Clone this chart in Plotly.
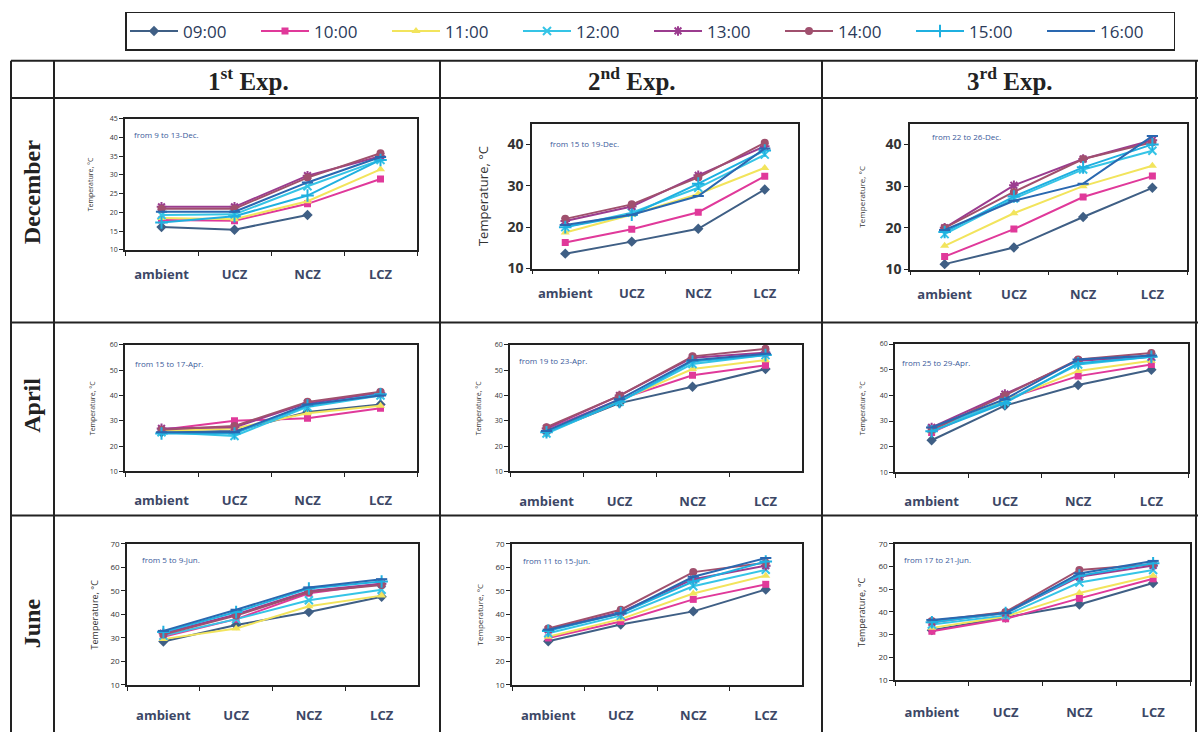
import plotly.graph_objects as go

# ---------------- data ----------------
zones = ["ambient", "UCZ", "NCZ", "LCZ"]
hours = ["09:00", "10:00", "11:00", "12:00", "13:00", "14:00", "15:00", "16:00"]
months = ["December", "April", "June"]
experiments = ["1<sup>st</sup> Exp.", "2<sup>nd</sup> Exp.", "3<sup>rd</sup> Exp."]
periods = [
    ["from 9 to 13-Dec.", "from 15 to 19-Dec.", "from 22 to 26-Dec."],
    ["from 15 to 17-Apr.", "from 19 to 23-Apr.", "from 25 to 29-Apr."],
    ["from 5 to 9-Jun.", "from 11 to 15-Jun.", "from 17 to 21-Jun."],
]
y_ranges = [[10, 45], [10, 60], [10, 70]]
y_ticks = [[5, 10, 10], [10, 10, 10], [10, 10, 10]]

# rows = hours 09:00 ... 16:00, columns = ambient, UCZ, NCZ, LCZ
dec_exp1 = [
    [16.1, 15.4, 19.3, None],
    [18.0, 17.8, 22.3, 28.9],
    [18.5, 18.2, 23.0, 31.5],
    [19.3, 19.5, 27.0, 34.0],
    [21.5, 21.5, 29.8, 35.0],
    [21.0, 21.0, 29.3, 35.8],
    [17.3, 19.0, 24.5, 34.0],
    [20.2, 20.2, 28.0, 34.8],
]
dec_exp2 = [
    [13.6, 16.5, 19.6, 29.1],
    [16.3, 19.5, 23.6, 32.3],
    [18.7, 23.0, 28.0, 34.3],
    [20.0, 23.5, 29.5, 37.5],
    [21.5, 25.0, 32.5, 39.5],
    [22.0, 25.5, 32.0, 40.4],
    [20.0, 23.0, 30.5, 38.5],
    [20.5, 23.0, 27.5, 39.0],
]
dec_exp3 = [
    [11.3, 15.3, 22.6, 29.6],
    [13.1, 19.7, 27.4, 32.4],
    [15.7, 23.5, 30.0, 34.9],
    [18.5, 27.0, 34.0, 38.5],
    [20.0, 30.2, 36.5, 41.0],
    [20.0, 28.6, 36.5, 40.5],
    [19.0, 27.5, 34.5, 40.0],
    [19.5, 26.5, 30.6, 42.0],
]
apr_exp1 = [
    [25.5, 26.0, 33.5, 36.5],
    [26.5, 30.0, 31.0, 35.0],
    [26.0, 27.0, 33.0, 36.0],
    [25.5, 24.0, 35.5, 40.0],
    [27.0, 27.5, 37.0, 41.0],
    [26.5, 28.0, 37.5, 41.5],
    [25.0, 25.0, 36.0, 40.5],
    [25.5, 25.5, 36.5, 40.0],
]
apr_exp2 = [
    [25.5, 37.0, 43.5, 50.5],
    [26.5, 38.5, 48.0, 52.0],
    [26.0, 38.0, 50.5, 54.0],
    [25.0, 37.5, 52.5, 56.0],
    [27.0, 40.0, 55.0, 57.0],
    [27.5, 40.0, 55.5, 58.5],
    [25.5, 37.5, 53.5, 56.0],
    [26.0, 38.5, 54.0, 56.5],
]
apr_exp3 = [
    [22.5, 36.0, 44.0, 50.0],
    [25.5, 38.5, 47.5, 52.0],
    [26.0, 38.0, 49.5, 53.5],
    [27.0, 37.5, 52.0, 55.0],
    [27.5, 40.5, 53.5, 55.0],
    [26.5, 40.0, 54.0, 56.5],
    [26.0, 37.0, 52.5, 55.0],
    [27.5, 38.5, 54.0, 55.5],
]
jun_exp1 = [
    [28.5, 35.5, 41.0, 47.5],
    [30.5, 38.0, 49.0, 53.0],
    [29.5, 34.0, 43.5, 48.0],
    [31.0, 38.0, 46.0, 50.5],
    [32.0, 40.0, 50.0, 53.0],
    [31.5, 39.5, 49.5, 52.5],
    [32.5, 41.0, 51.0, 54.0],
    [33.0, 42.0, 51.5, 55.0],
]
jun_exp2 = [
    [28.6, 35.7, 41.3, 50.6],
    [30.0, 37.0, 46.4, 52.8],
    [30.5, 38.0, 48.9, 56.5],
    [32.0, 39.5, 52.0, 59.0],
    [33.5, 41.0, 55.0, 60.7],
    [34.0, 42.0, 58.0, 62.0],
    [33.0, 40.5, 54.0, 62.5],
    [33.5, 40.5, 56.0, 64.0],
]
jun_exp3 = [
    [32.0, 37.5, 43.3, 52.8],
    [31.5, 37.0, 46.0, 54.6],
    [33.0, 38.0, 48.4, 56.0],
    [34.5, 38.5, 53.0, 58.5],
    [35.5, 39.5, 55.5, 60.5],
    [36.0, 40.0, 58.5, 61.0],
    [35.5, 39.5, 56.0, 61.5],
    [36.5, 39.5, 57.0, 62.5],
]
panels = [
    [dec_exp1, dec_exp2, dec_exp3],
    [apr_exp1, apr_exp2, apr_exp3],
    [jun_exp1, jun_exp2, jun_exp3],
]

# ---------------- styles ----------------
W, H = 1198, 741
colors = ["#3f5f85", "#e0399a", "#f2e45c", "#35c4e6", "#9b3c8f", "#a0506e", "#1fb0e0", "#2a68b0"]
symbols = ["diamond", "square", "triangle-up", "x-thin", "asterisk", "circle", "cross-thin", "line-ew"]
msizes = [8, 7, 8, 8, 8, 8, 9, 8]

# plot boxes in pixels: (x0, x1, y0, y1)
boxes = [
    [(125, 417, 115, 249), (532, 798, 120, 268), (910, 1187, 120, 269)],
    [(125, 417, 346, 475), (510, 802, 346, 475), (895, 1188, 345, 476)],
    [(127, 418, 549, 693), (512, 802, 549, 693), (895, 1190, 549, 688)],
]
xlabel_standoff = [[12, 12, 12], [16, 17, 16], [18, 18, 20]]
ytick_font = [[7, 14, 14], [7, 7, 7], [8, 8, 8]]
ytitle_font = [[7, 13, 8], [7, 7, 7], [9, 8, 9]]
ytitle_x = [[90, 483, 862], [92, 478, 862], [94, 479, 862]]
note_pos = [[(132, 131), (548, 140), (930, 133)],
            [(133, 365), (517, 362), (900, 364)],
            [(140, 565), (521, 566), (902, 565)]]

fig = go.Figure()
layout = dict(
    width=W, height=H, autosize=False,
    margin=dict(l=0, r=0, t=0, b=0),
    paper_bgcolor="white", plot_bgcolor="white",
    font=dict(family="Open Sans", color="#333333"),
    showlegend=True,
)
annotations = []
shapes = []

k = 0
for r in range(3):
    for c in range(3):
        k += 1
        sx = "" if k == 1 else str(k)
        x0, x1, y0, y1 = boxes[r][c]
        data = panels[r][c]
        for h in range(8):
            sym = symbols[h]
            thin = sym in ("x-thin", "asterisk", "cross-thin", "line-ew")
            fig.add_trace(go.Scatter(
                x=zones, y=data[h], name=hours[h], mode="lines+markers",
                xaxis="x" + sx, yaxis="y" + sx,
                legendgroup=hours[h], showlegend=(k == 1),
                line=dict(color=colors[h], width=2),
                marker=dict(symbol=sym, size=msizes[h], color=colors[h],
                            line=dict(color=colors[h], width=2 if thin else 0)),
                connectgaps=False,
            ))
        layout["xaxis" + sx] = dict(
            domain=[x0 / W, x1 / W], anchor="y" + sx,
            type="category", categoryorder="array", categoryarray=zones,
            range=[-0.5, 3.5], tickson="boundaries",
            ticks="outside", ticklen=4, tickcolor="#222",
            showline=True, linecolor="#222", linewidth=1.5, mirror=True,
            showgrid=False, zeroline=False, ticklabelstandoff=xlabel_standoff[r][c],
            tickfont=dict(family="Open Sans", size=13, color="#3c4766", weight="bold"),
        )
        layout["yaxis" + sx] = dict(
            domain=[1 - y1 / H, 1 - y0 / H], anchor="x" + sx,
            range=y_ranges[r], dtick=y_ticks[r][c], tick0=10,
            ticks="outside", ticklen=4, tickcolor="#222",
            showline=True, linecolor="#222", linewidth=1.5, mirror=True,
            showgrid=False, zeroline=False,
            tickfont=dict(family="Open Sans", size=ytick_font[r][c], color="#333",
                          weight="bold" if ytick_font[r][c] > 10 else "normal"),
        )
        annotations.append(dict(
            text="Temperature, °C", textangle=-90, xref="paper", yref="paper",
            x=ytitle_x[r][c] / W, y=1 - (y0 + y1) / 2 / H, showarrow=False,
            font=dict(family="Open Sans", size=ytitle_font[r][c], color="#333"),
            xanchor="center", yanchor="middle",
        ))
        nx, ny = note_pos[r][c]
        annotations.append(dict(
            text=periods[r][c], xref="paper", yref="paper",
            x=nx / W, y=1 - ny / H, showarrow=False, xanchor="left", yanchor="middle",
            font=dict(family="Open Sans", size=8, color="#3b5a9a"),
        ))

# table frame
line_style = dict(color="#222222", width=2)
for yy in (56, 94, 323, 520):
    shapes.append(dict(type="line", xref="paper", yref="paper",
                       x0=11 / W, x1=1, y0=1 - yy / H, y1=1 - yy / H, line=line_style))
for xx in (11, 54, 440, 822, 1196):
    shapes.append(dict(type="line", xref="paper", yref="paper",
                       x0=xx / W, x1=xx / W, y0=1 - 56 / H, y1=0, line=line_style))

# headers
for c, (txt, cx) in enumerate(zip(experiments, (248, 632, 1010))):
    annotations.append(dict(
        text="<b>" + txt + "</b>", xref="paper", yref="paper", x=cx / W, y=1 - 75 / H,
        showarrow=False, xanchor="center", yanchor="middle",
        font=dict(family="Liberation Serif", size=25, color="#222"),
    ))
for r, (txt, cy) in enumerate(zip(months, (190, 408, 630))):
    annotations.append(dict(
        text="<b>" + txt + "</b>", textangle=-90, xref="paper", yref="paper",
        x=32 / W, y=1 - cy / H, showarrow=False, xanchor="center", yanchor="middle",
        font=dict(family="Liberation Serif", size=24, color="#222"),
    ))

layout["annotations"] = annotations
layout["shapes"] = shapes
layout["legend"] = dict(
    orientation="h", x=125 / W, y=1 - 6 / H, xanchor="left", yanchor="top",
    bordercolor="#222", borderwidth=1.5, bgcolor="white",
    font=dict(family="Open Sans", size=17, color="#2b3a5a"),
    entrywidth=68, entrywidthmode="pixels", itemwidth=48,
)
fig.update_layout(**layout)

fig.write_html("out.html", config={"displayModeBar": False},
               post_script="document.body.style.margin='0';")
